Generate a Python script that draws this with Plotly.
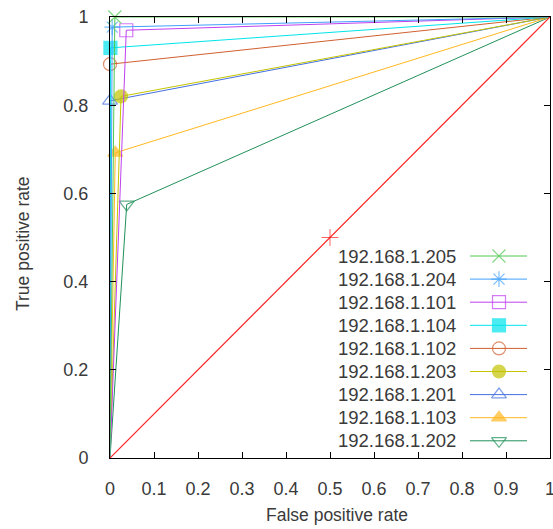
import plotly.graph_objects as go

hosts = ["192.168.1.205", "192.168.1.204", "192.168.1.101", "192.168.1.104",
         "192.168.1.102", "192.168.1.203", "192.168.1.201", "192.168.1.103",
         "192.168.1.202"]
fpr = [0.011, 0.005, 0.037, 0.001, 0.0, 0.025, 0.0, 0.012, 0.038]
tpr = [1.0, 0.977, 0.97, 0.93, 0.893, 0.82, 0.81, 0.692, 0.575]
colors = ["#50c850", "#40a0ff", "#c040f0", "#00e4ec", "#d06030",
          "#c4c400", "#4470e0", "#ffb820", "#20905a"]
symbols = ["x-thin-open", "asterisk-open", "square-open", "square",
           "circle-open", "circle", "triangle-up-open", "triangle-up",
           "triangle-down-open"]
rand_x = [0.0, 0.5, 1.0]
rand_y = [0.0, 0.5, 1.0]
xticks = [0, 0.1, 0.2, 0.3, 0.4, 0.5, 0.6, 0.7, 0.8, 0.9, 1]
yticks = [0, 0.2, 0.4, 0.6, 0.8, 1]

FONT = "Liberation Sans, Arial, sans-serif"
TXT = "#3a3a3a"
RED = "#ff2020"

# plot-area geometry (pixels) used to place the hand-made legend/titles
W, H = 553, 529
L, R, T, B = 110, 550, 17, 458
def px2x(X):
    return (X - L) / (R - L)
def px2y(Y):
    return (B - Y) / (B - T)

fig = go.Figure()

for i in range(len(hosts) - 1, -1, -1):
    c = colors[i]
    fig.add_trace(go.Scatter(
        x=[0, fpr[i], 1], y=[0, tpr[i], 1], mode="lines+markers",
        cliponaxis=False, showlegend=False,
        line=dict(color=c, width=1),
        marker=dict(symbol=symbols[i], size=[0, 13, 0], color=c,
                    line=dict(color=c, width=1.2))))

# random-guess diagonal
fig.add_trace(go.Scatter(
    x=rand_x, y=rand_y, mode="lines+markers", cliponaxis=False,
    line=dict(color=RED, width=1.2),
    marker=dict(symbol="cross-thin-open", size=[0, 12, 0], color=RED,
                line=dict(color=RED, width=1)),
    showlegend=False))

# manual legend: text to the left of the sample
leg_y0, leg_dy = 256, 23.1
for i, h in enumerate(hosts):
    yy = px2y(leg_y0 + i * leg_dy)
    c = colors[i]
    fig.add_trace(go.Scatter(
        x=[px2x(470), px2x(499), px2x(527)], y=[yy, yy, yy],
        mode="lines+markers", showlegend=False, cliponaxis=False,
        line=dict(color=c, width=1),
        marker=dict(symbol=symbols[i], size=[0, 13, 0], color=c,
                    line=dict(color=c, width=1.2))))
    fig.add_annotation(x=px2x(458), y=yy, xref="x", yref="y", text=h,
                       showarrow=False, xanchor="right", yanchor="middle",
                       font=dict(family=FONT, size=18.5, color=TXT))

# axis titles as annotations (paper coordinates)
fig.add_annotation(x=px2x(337), y=px2y(515), xref="paper", yref="paper",
                   text="False positive rate", showarrow=False,
                   xanchor="center", yanchor="middle",
                   font=dict(family=FONT, size=17.5, color=TXT))
fig.add_annotation(x=px2x(23), y=px2y(244), xref="paper", yref="paper",
                   text="True positive rate", showarrow=False, textangle=-90,
                   xanchor="center", yanchor="middle",
                   font=dict(family=FONT, size=17.5, color=TXT))

axis_common = dict(range=[0, 1], ticks="inside", ticklen=6, tickcolor="black",
                   showline=True, linecolor="black", linewidth=1,
                   mirror="ticks", showgrid=False, zeroline=False,
                   ticklabeloverflow="allow", automargin=False)

fig.update_layout(
    width=W, height=H,
    margin=dict(l=L, r=W - R, t=T, b=H - B, autoexpand=False),
    paper_bgcolor="white", plot_bgcolor="white",
    font=dict(family=FONT, size=18, color=TXT),
    xaxis=dict(tickvals=xticks, ticktext=[f"{v:g}" for v in xticks],
               ticklabelstandoff=14, **axis_common),
    yaxis=dict(tickvals=yticks, ticktext=[f"{v:g}" for v in yticks],
               ticklabelstandoff=17, **axis_common),
)

fig.write_html("out.html")
